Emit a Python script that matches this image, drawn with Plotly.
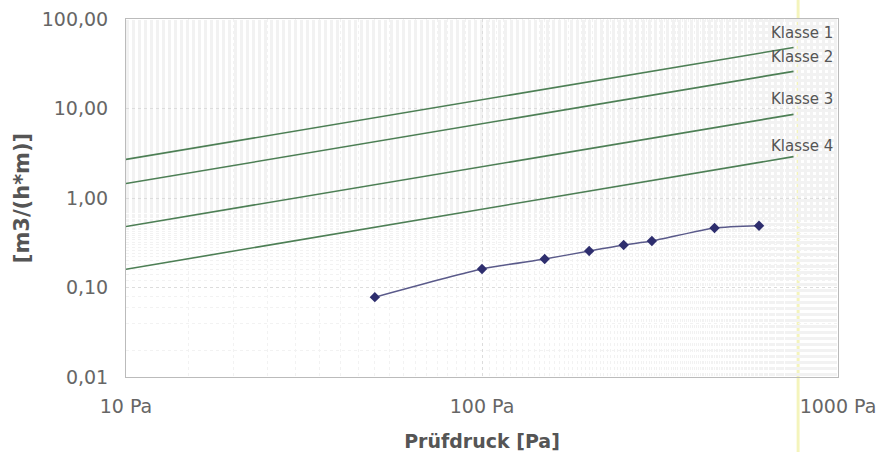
import numpy as np
import plotly.graph_objects as go

# Measured data
pressure = [50, 100, 150, 200, 250, 300, 450, 600]
flow = [0.078, 0.161, 0.208, 0.256, 0.299, 0.331, 0.462, 0.49]

# Class limit lines (start/end points)
class_names = ["Klasse 1", "Klasse 2", "Klasse 3", "Klasse 4"]
class_x = [10, 750]
class_y = [[2.7, 48.0], [1.45, 26.0], [0.48, 8.6], [0.16, 2.9]]
label_y = [69.8, 37.6, 12.8, 3.8]

x_tickvals = [10, 100, 1000]
x_ticktext = ["10 Pa", "100 Pa", "1000 Pa"]
y_tickvals = [0.01, 0.1, 1, 10, 100]
y_ticktext = ["0,01", "0,10", "1,00", "10,00", "100,00"]

fig = go.Figure()

# faint yellow scan stripe
fig.add_shape(type="line", xref="paper", yref="paper", x0=0.944, x1=0.944, y0=-0.3, y1=1.1,
              line=dict(color="rgba(240,240,160,0.7)", width=3), layer="below")

for name, ys in zip(class_names, class_y):
    fig.add_trace(go.Scatter(x=class_x, y=ys, mode="lines", name=name,
                             line=dict(color="#4d7f55", width=1.6), showlegend=False))

fig.add_trace(go.Scatter(x=pressure, y=flow, mode="lines+markers",
                         line=dict(color="#5a5a8a", width=1.5, shape="spline", smoothing=0.6),
                         marker=dict(symbol="diamond", size=8, color="#2e2e6e"),
                         showlegend=False))

for name, ly in zip(class_names, label_y):
    fig.add_annotation(x=0.903, xref="paper", y=np.log10(ly), yref="y",
                       text=name, showarrow=False, xanchor="left", yanchor="middle",
                       font=dict(family="DejaVu Sans", size=15, color="#555555"))

grid = dict(showgrid=True, gridcolor="#dcdcdc", griddash="dot", gridwidth=1)
fig.update_xaxes(type="log", range=[1, 3], tickvals=x_tickvals, ticktext=x_ticktext,
                 showline=True, linecolor="#bbbbbb", mirror=True, ticks="",
                 automargin=False, ticklabelstandoff=12, ticklabeloverflow="allow",
                 minor=dict(showgrid=True, gridcolor="#f2f2f2", griddash="dot"),
                 tickfont=dict(family="DejaVu Sans", size=19, color="#666666"),
                 title=dict(text="<b>Prüfdruck [Pa]</b>", standoff=19,
                            font=dict(family="DejaVu Sans", size=19, color="#555555")),
                 zeroline=False, **grid)
fig.update_yaxes(type="log", range=[-2, 2], tickvals=y_tickvals, ticktext=y_ticktext,
                 showline=True, linecolor="#bbbbbb", mirror=True, ticks="",
                 automargin=False, ticklabelstandoff=13, ticklabeloverflow="allow",
                 minor=dict(showgrid=True, gridcolor="#f2f2f2", griddash="dot"),
                 tickfont=dict(family="DejaVu Sans", size=19, color="#666666"),
                 title=dict(text="<b>[m3/(h*m)]</b>", standoff=6,
                            font=dict(family="DejaVu Sans", size=21, color="#555555")),
                 zeroline=False, **grid)

fig.update_layout(width=879, height=452, margin=dict(l=126, r=41, t=19, b=75),
                  plot_bgcolor="white", paper_bgcolor="white")
fig.write_html("out.html", config={"displayModeBar": False},
               post_script="document.body.style.margin='0';document.body.style.overflow='hidden';")
